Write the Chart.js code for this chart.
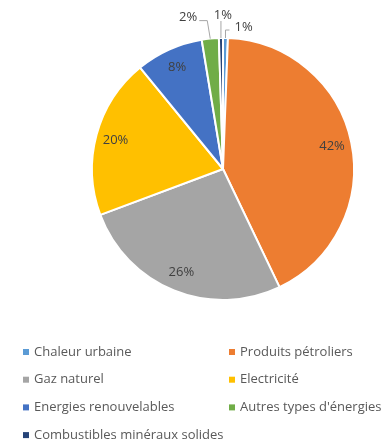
<!DOCTYPE html>
<html>
<head>
<meta charset="utf-8">
<script src="https://cdn.jsdelivr.net/npm/chart.js@4.4.1/dist/chart.umd.min.js"></script>
<style>
  html, body { margin: 0; padding: 0; background: #fff; }
  #wrap { width: 387px; height: 440px; }
</style>
</head>
<body>
<div id="wrap"><canvas id="pie" width="387" height="440"></canvas></div>
<script>
// energy mix, share in %
const sources = ['Chaleur urbaine', 'Produits pétroliers', 'Gaz naturel', 'Electricité',
  'Energies renouvelables', "Autres types d'énergies", 'Combustibles minéraux solides'];
const shares = [0.6, 42.3, 26.4, 19.8, 8.3, 2.1, 0.5];
const sliceColors = ['#5B9BD5', '#ED7D31', '#A5A5A5', '#FFC000', '#4472C4', '#70AD47', '#264478'];

const FONT = '"Open Sans", "Liberation Sans", sans-serif';

// where the labels of the thin slices go, relative to the slice edge
const callouts = {
  5: { bend: [-3, -18], end: [-11, -18], align: 'right' },
  6: { bend: [0, -17], end: [0, -17], align: 'center' },
  0: { bend: [0, -8], end: [4, -8], align: 'left' }
};

function pct(v) {
  return Math.round(v) + '%';
}

const sliceLabels = {
  id: 'sliceLabels',
  afterDatasetsDraw(chart) {
    const ctx = chart.ctx;
    const meta = chart.getDatasetMeta(0);
    ctx.save();
    ctx.font = '13px ' + FONT;
    ctx.fillStyle = '#404040';
    ctx.textBaseline = 'middle';
    meta.data.forEach((arc, i) => {
      const mid = (arc.startAngle + arc.endAngle) / 2;
      const text = pct(shares[i]);
      const c = callouts[i];
      if (!c) {
        const r = arc.outerRadius * 0.85;
        ctx.textAlign = 'center';
        ctx.fillText(text, arc.x + r * Math.cos(mid), arc.y + r * Math.sin(mid));
        return;
      }
      const ax = arc.x + arc.outerRadius * Math.cos(mid);
      const ay = arc.y + arc.outerRadius * Math.sin(mid);
      ctx.strokeStyle = '#A6A6A6';
      ctx.lineWidth = 1;
      ctx.beginPath();
      ctx.moveTo(ax, ay);
      ctx.lineTo(ax + c.bend[0], ay + c.bend[1]);
      ctx.lineTo(ax + c.end[0], ay + c.end[1]);
      ctx.stroke();
      ctx.textAlign = c.align;
      let tx = ax + c.end[0];
      let ty = ay + c.end[1];
      if (c.align === 'right') { tx -= 2; ty -= 3; }
      if (c.align === 'left') { tx += 5; ty -= 3; }
      if (c.align === 'center') { tx += 2; ty -= 6; }
      ctx.fillText(text, tx, ty);
    });
    ctx.restore();
  }
};

// two-column legend under the pie
const gridLegend = {
  id: 'gridLegend',
  afterDraw(chart) {
    const ctx = chart.ctx;
    const cols = [23, 229];
    const rowTop = 352, rowStep = 27.7;
    ctx.save();
    ctx.font = '13px ' + FONT;
    ctx.textBaseline = 'middle';
    ctx.textAlign = 'left';
    chart.data.labels.forEach((name, i) => {
      const x = cols[i % 2];
      const y = rowTop + Math.floor(i / 2) * rowStep;
      ctx.fillStyle = sliceColors[i];
      ctx.fillRect(x, y - 3, 6, 6);
      ctx.fillStyle = '#595959';
      ctx.fillText(name, x + 11, y);
    });
    ctx.restore();
  }
};

new Chart(document.getElementById('pie'), {
  type: 'pie',
  data: {
    labels: sources,
    datasets: [{
      data: shares,
      backgroundColor: sliceColors,
      borderColor: '#fff',
      borderWidth: 2
    }]
  },
  options: {
    responsive: false,
    animation: false,
    layout: { padding: { left: 90, right: 31, top: 37, bottom: 139 } },
    plugins: {
      legend: { display: false },
      tooltip: { enabled: false }
    }
  },
  plugins: [sliceLabels, gridLegend]
});
</script>
</body>
</html>
